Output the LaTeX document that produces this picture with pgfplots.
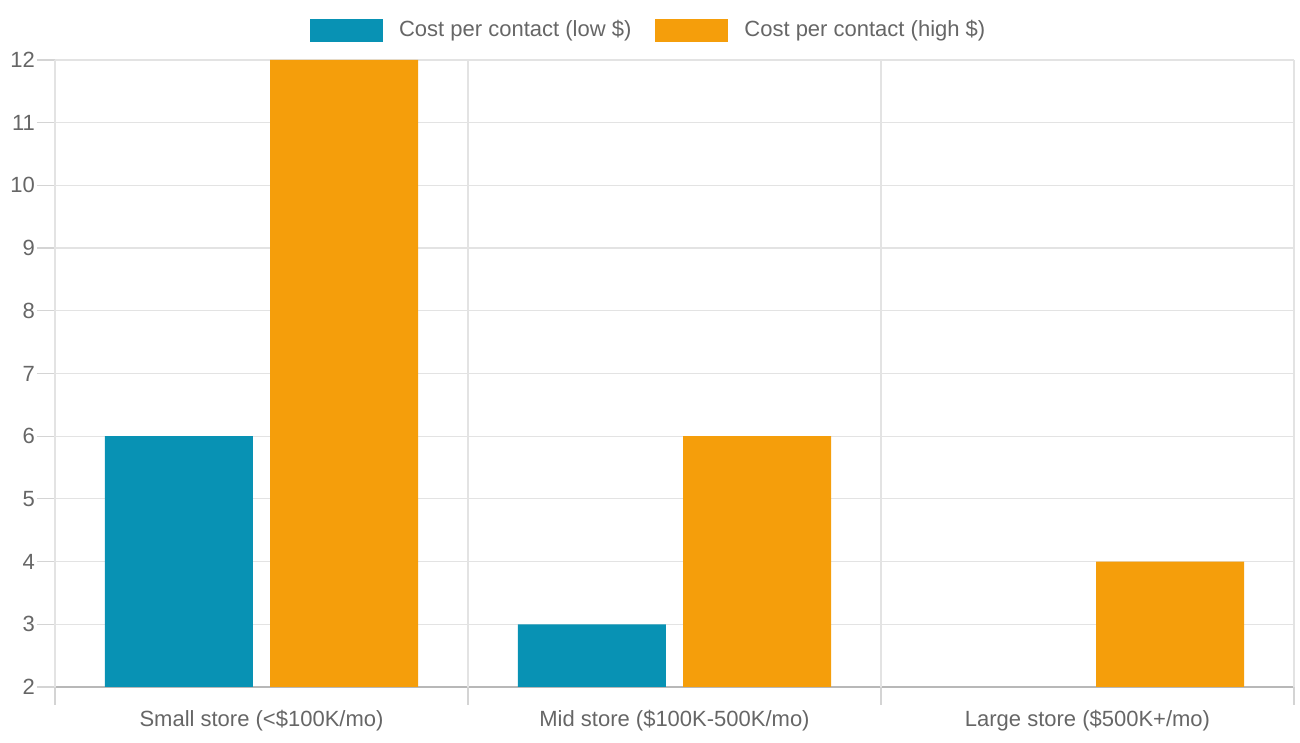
\documentclass[border=0pt]{standalone}
\usepackage{pgfplots}
\pgfplotsset{compat=1.18}
\usepackage{fontspec}
\setmainfont{Liberation Sans}
\definecolor{cblue}{HTML}{0892B4}
\definecolor{corange}{HTML}{F59E0B}
\definecolor{txt}{HTML}{666666}
\definecolor{gridc}{HTML}{E3E3E3}
\definecolor{tickc}{HTML}{D4D4D4}
\definecolor{axc}{HTML}{B8B8B8}
\begin{document}
\begin{tikzpicture}
\begin{axis}[
  at={(0,0)}, anchor=south west,
  scale only axis, width=619.5pt, height=313.5pt,
  xmin=-0.5, xmax=2.5, ymin=2, ymax=12,
  ybar, bar width=0.358,
  font=\fontsize{11}{13}\selectfont,
  /pgf/number format/assume math mode=true,
  axis x line*=bottom, axis y line*=left,
  axis line style={draw=axc, line width=0.6pt},
  tick align=outside,
  major tick length=9pt,
  xtick={0,1,2},
  xticklabels={Small store (<\$100K/mo), Mid store (\$100K-500K/mo), Large store (\$500K+/mo)},
  xticklabel style={yshift=1pt},
  xtick style={draw=none},
  extra x ticks={-0.5,0.5,1.5,2.5},
  extra x tick labels={},
  extra x tick style={grid=major, xtick style={draw=tickc, line width=0.6pt}},
  ytick={2,3,...,12},
  ymajorgrids,
  major grid style={draw=gridc, line width=0.6pt},
  ytick style={draw=tickc, line width=0.6pt},
  yticklabel style={xshift=2.5pt},
  tick label style={text=txt},
  legend style={draw=none, fill=none, at={(0.480,1.0478)}, anchor=center,
    legend columns=2, text=txt, font=\fontsize{11}{13}\selectfont,
    /tikz/every odd column/.append style={column sep=6pt},
    /tikz/every even column/.append style={column sep=10pt}},
  legend image code/.code={\fill[#1] (0pt,-5.75pt) rectangle (36.5pt,5.75pt);},
  legend cell align=left,
]
\addplot[fill=cblue, draw=none, bar shift=-0.2] coordinates {(0,6) (1,3)};
\addlegendentry{Cost per contact (low \$)}
\addplot[fill=corange, draw=none, bar shift=0.2] coordinates {(0,12) (1,6) (2,4)};
\addlegendentry{Cost per contact (high \$)}
\end{axis}
\pgfresetboundingbox
\path (-27.5pt,-28pt) rectangle (622.5pt,343.5pt);
\end{tikzpicture}
\end{document}
